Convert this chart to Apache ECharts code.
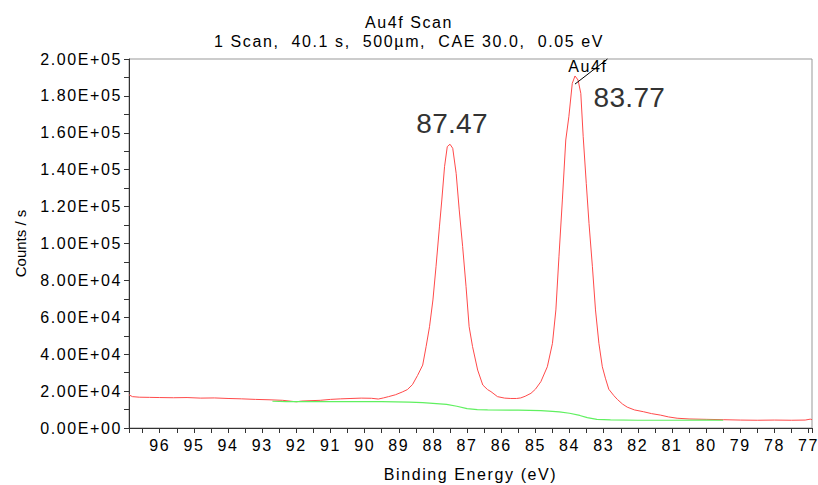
<!DOCTYPE html>
<html>
<head>
<meta charset="utf-8">
<script src="https://cdn.jsdelivr.net/npm/echarts@6/dist/echarts.min.js"></script>
<style>
html, body { margin: 0; padding: 0; background: #fff; }
#chart { width: 818px; height: 485px; }
#chart text { letter-spacing: 1.6px; }
#chart text[style*="28px"] { letter-spacing: 0.3px; }
#chart text[style*="15px"] { letter-spacing: 0px; }
</style>
</head>
<body>
<div id="chart"></div>
<script>
// Survey spectrum (red): binding energy (eV) and counts/s
const energies = [96.90, 96.80, 96.60, 96.30, 96.00, 95.60, 95.20, 94.80, 94.40, 94.00, 93.60, 93.20, 92.80, 92.40, 92.00, 91.85, 91.60, 91.30, 91.00, 90.70, 90.40, 90.10, 89.80, 89.60, 89.45, 89.30, 89.10, 88.90, 88.75, 88.60, 88.45, 88.30, 88.20, 88.10, 88.00, 87.91, 87.81, 87.74, 87.66, 87.58, 87.50, 87.42, 87.32, 87.23, 87.13, 87.03, 86.94, 86.84, 86.69, 86.54, 86.40, 86.30, 86.11, 85.90, 85.72, 85.55, 85.43, 85.30, 85.13, 85.00, 84.84, 84.65, 84.50, 84.40, 84.31, 84.21, 84.11, 84.02, 83.92, 83.84, 83.75, 83.67, 83.60, 83.51, 83.43, 83.33, 83.24, 83.14, 83.04, 82.95, 82.85, 82.70, 82.60, 82.45, 82.31, 82.10, 81.83, 81.60, 81.34, 81.10, 80.85, 80.50, 80.00, 79.50, 79.00, 78.50, 78.00, 77.50, 77.10, 76.95, 76.90];
const counts = [18000, 17000, 16700, 16600, 16500, 16400, 16500, 16200, 16300, 16000, 15800, 15500, 15300, 15000, 14200, 14600, 14800, 15000, 15500, 15800, 16000, 16200, 16100, 15700, 16300, 17000, 18000, 19500, 20800, 23500, 28500, 34100, 44100, 54900, 69400, 87400, 109000, 123600, 141600, 152500, 153800, 151600, 138000, 118200, 98300, 76600, 54900, 44100, 31400, 23300, 20800, 19700, 17000, 16200, 16000, 16000, 16300, 17200, 18800, 21000, 25100, 33200, 45900, 64000, 92800, 123600, 156100, 168700, 186800, 190800, 188600, 181400, 157900, 132600, 110900, 87400, 64000, 45900, 33200, 27000, 21000, 17500, 15500, 13000, 11300, 9800, 8800, 7800, 7000, 6000, 5300, 4900, 4700, 4500, 4300, 4200, 4300, 4200, 4300, 4800, 4500];

// Background (green)
const bgEnergies = [92.70, 92.30, 91.50, 90.50, 89.50, 88.70, 88.30, 88.00, 87.60, 87.30, 87.00, 86.70, 86.40, 85.50, 84.84, 84.50, 84.30, 84.00, 83.70, 83.48, 83.20, 82.80, 82.00, 81.00, 80.00, 79.50];
const bgCounts = [14500, 14300, 14300, 14300, 14300, 14000, 13700, 13400, 12800, 11800, 10500, 10000, 9800, 9700, 9400, 9000, 8700, 8000, 6800, 5600, 4700, 4400, 4200, 4200, 4300, 4200];

// Annotations
const peakNames = ['87.47', '83.77'];
const peakAnchors = [[87.47, 153800], [83.77, 190800]];
const compName = 'Au4f';
const compAnchor = [83.84, 190800];
const compLeader = [[83.84, 186400], [82.89, 200000]];

// Axis settings
const xMin = 76.9, xMax = 96.9;
const yMin = 0, yMax = 200000, yStep = 20000;

const titleText = 'Au4f Scan';
const subText = '1 Scan,  40.1 s,  500µm,  CAE 30.0,  0.05 eV';
const xName = 'Binding Energy (eV)';
const yName = 'Counts / s';

const FONT = "'Liberation Sans', Arial, sans-serif";

function sci(v) {
  if (v === 0) return '0.00E+00';
  const e = Math.floor(Math.log10(v) + 1e-9);
  const m = v / Math.pow(10, e);
  return m.toFixed(2) + 'E+' + String(e).padStart(2, '0');
}

const mainData = energies.map((e, i) => [e, counts[i]]);
const bgData = bgEnergies.map((e, i) => [e, bgCounts[i]]);

const chart = echarts.init(document.getElementById('chart'), null, { renderer: 'svg' });
chart.setOption({
  animation: false,
  backgroundColor: '#fff',
  title: [
    { text: titleText, left: 'center', top: 9, textStyle: { fontFamily: FONT, fontSize: 16, fontWeight: 'normal', color: '#000' } },
    { text: subText, left: 'center', top: 28, textStyle: { fontFamily: FONT, fontSize: 16, fontWeight: 'normal', color: '#000' } }
  ],
  grid: { left: 129, right: 6, top: 59, bottom: 57, containLabel: false, outerBoundsMode: 'none',
    show: true, borderColor: '#999', borderWidth: 1, backgroundColor: 'transparent' },
  xAxis: {
    type: 'value', inverse: true, min: xMin, max: xMax,
    splitNumber: 20, minInterval: 1, maxInterval: 1,
    name: xName, nameLocation: 'middle', nameGap: 38,
    nameTextStyle: { fontFamily: FONT, fontSize: 16, color: '#000' },
    axisLine: { show: true, onZero: false, lineStyle: { color: '#333', width: 1 } },
    axisTick: { show: true, length: 5, lineStyle: { color: '#333' } },
    minorTick: { show: true, splitNumber: 2, length: 5, lineStyle: { color: '#333' } },
    splitLine: { show: false },
    axisLabel: { fontFamily: FONT, fontSize: 16, color: '#000', margin: 9, showMinLabel: false, showMaxLabel: false,
      hideOverlap: false, interval: 0,
      formatter: v => String(Math.round(v)) }
  },
  yAxis: {
    type: 'value', min: yMin, max: yMax, interval: yStep,
    name: yName, nameLocation: 'middle', nameGap: 101,
    nameTextStyle: { fontFamily: FONT, fontSize: 15, color: '#000' },
    axisLine: { show: true, lineStyle: { color: '#333', width: 1 } },
    axisTick: { show: true, length: 5, lineStyle: { color: '#333' } },
    minorTick: { show: true, splitNumber: 2, length: 5, lineStyle: { color: '#333' } },
    splitLine: { show: false },
    axisLabel: { fontFamily: FONT, fontSize: 16, color: '#000', margin: 7, formatter: sci }
  },
  series: [
    {
      type: 'line', data: mainData, showSymbol: false, symbol: 'none', z: 2,
      lineStyle: { color: '#ff4a4a', width: 1 },
      markPoint: {
        symbol: 'circle', symbolSize: 0, silent: true,
        label: { show: true, position: 'inside', fontFamily: FONT, fontSize: 28, color: '#333' },
        data: [
          { coord: peakAnchors[0], value: peakNames[0], label: { offset: [1, -21], formatter: peakNames[0] } },
          { coord: peakAnchors[1], value: peakNames[1], label: { offset: [52, 22], formatter: peakNames[1] } },
          { coord: compAnchor, value: compName, label: { offset: [13, -9], fontSize: 16, color: '#000', formatter: compName } }
        ]
      },
      markLine: {
        silent: true, symbol: ['none', 'none'],
        label: { show: false },
        lineStyle: { color: '#000', width: 1, type: 'solid' },
        data: [[{ coord: compLeader[0] }, { coord: compLeader[1] }]]
      }
    },
    {
      type: 'line', data: bgData, showSymbol: false, symbol: 'none', z: 3,
      lineStyle: { color: '#60f060', width: 1.2 }
    }
  ]
});
</script>
</body>
</html>
